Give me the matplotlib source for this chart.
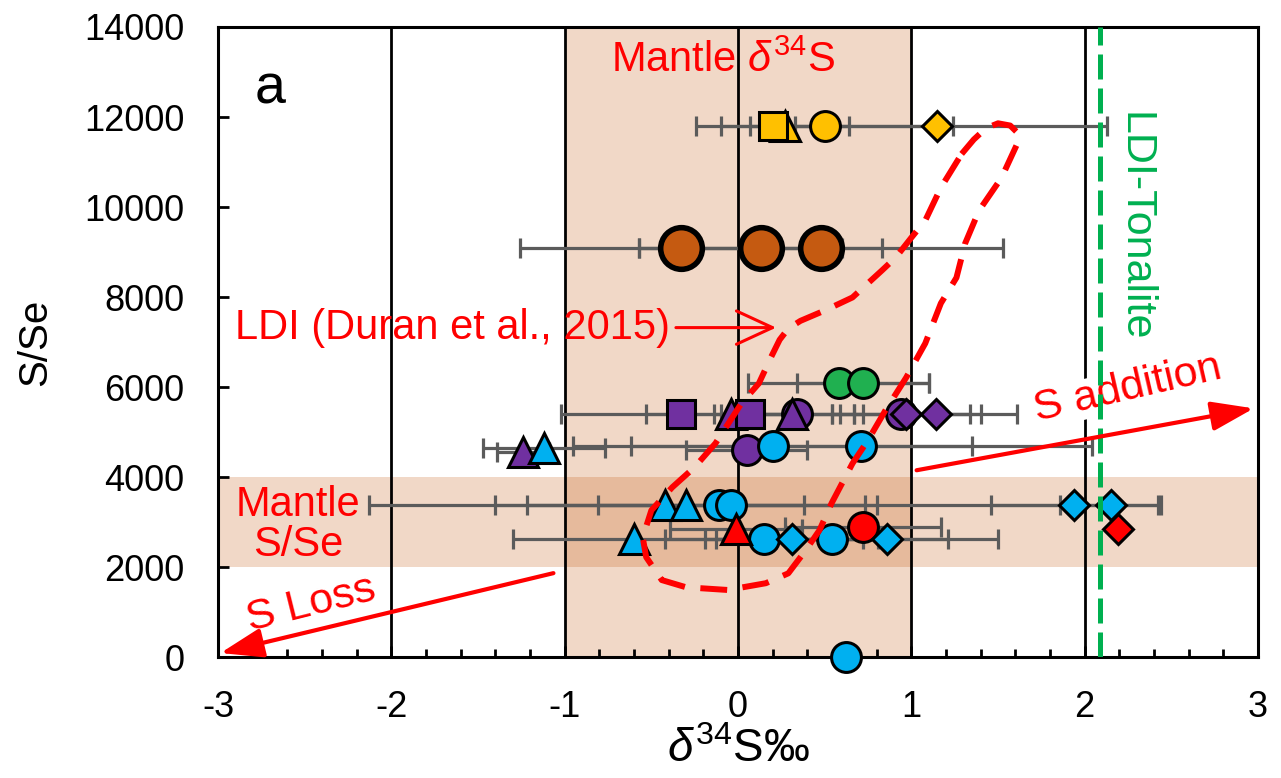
import numpy as np
import matplotlib
matplotlib.use('Agg')
import matplotlib.pyplot as plt
from matplotlib.ticker import MultipleLocator

plt.rcParams['font.family'] = ['Liberation Sans', 'DejaVu Sans']
plt.rcParams['axes.unicode_minus'] = False
plt.rcParams['mathtext.fontset'] = 'custom'
plt.rcParams['mathtext.rm'] = 'Liberation Sans'
plt.rcParams['mathtext.it'] = 'Liberation Sans:italic'

# --- data (d34S, S/Se, 1 sigma on d34S, marker) ---
yellow_x = [0.20, 0.27, 0.50, 1.15]
yellow_y = [11800, 11800, 11800, 11800]
yellow_err = [0.13, 0.37, 0.74, 0.98]
yellow_mk = ['s', '^', 'o', 'D']

brown_x = [-0.33, 0.13, 0.48]
brown_y = [9100, 9100, 9100]
brown_err = [0.93, 0.70, 1.05]
brown_mk = ['o', 'o', 'o']

green_x = [0.58, 0.72]
green_y = [6100, 6100]
green_err = [0.52, 0.38]
green_mk = ['o', 'o']

purple_x = [-0.33, -0.04, 0.07, 0.31, 0.34, 0.94, 0.97, 1.14, -1.24, 0.05]
purple_y = [5400, 5400, 5400, 5400, 5400, 5400, 5400, 5400, 4550, 4600]
purple_err = [0.69, 0.10, 0.60, 0.41, 0.25, 0.40, 0.43, 0.47, 0.15, 0.35]
purple_mk = ['s', '^', 's', '^', 'o', 'o', 'D', 'D', '^', 'o']

cyan_x = [-1.12, 0.20, 0.71,
          -0.42, -0.30, -0.11, -0.04, 1.94, 2.15,
          -0.60, 0.15, 0.31, 0.54, 0.86,
          0.62]
cyan_y = [4650, 4700, 4700,
          3380, 3380, 3380, 3380, 3380, 3380,
          2630, 2630, 2630, 2630, 2630,
          0]
cyan_err = [0.35, 1.15, 1.33,
            0.80, 1.10, 2.02, 0.77, 0.48, 0.29,
            0.70, 0.57, 0.50, 0.67, 0.64,
            0.0]
cyan_mk = ['^', 'o', 'o',
           '^', '^', 'o', 'o', 'D', 'D',
           '^', 'o', 'D', 'o', 'D',
           'o']

red_x = [-0.01, 0.72, 2.19]
red_y = [2850, 2900, 2850]
red_err = [0.38, 0.45, 0.0]
red_mk = ['^', 'o', 'D']

# LDI field outline (Duran et al., 2015)
ldi_x = [1.29, 1.36, 1.43, 1.50, 1.57, 1.62, 1.61, 1.52, 1.39, 1.31, 1.26, 1.17,
         1.08, 0.97, 0.85, 0.75, 0.66, 0.54, 0.47, 0.39, 0.29, 0.16, -0.06, -0.30,
         -0.44, -0.53, -0.55, -0.50, -0.38, -0.25, -0.13, 0.02, 0.12, 0.19, 0.24,
         0.29, 0.36, 0.50, 0.66, 0.83, 0.91, 1.00, 1.08, 1.17, 1.29]
ldi_y = [11180, 11500, 11750, 11860, 11810, 11620, 11400, 10650, 9920, 9190, 8430, 7860,
         6970, 6210, 5480, 4820, 4300, 3420, 2820, 2370, 1860, 1640, 1490, 1550,
         1710, 2220, 2660, 3260, 3770, 4220, 4750, 5640, 6080, 6660, 7050,
         7300, 7470, 7700, 7990, 8590, 8880, 9320, 9700, 10430, 11180]

mantle_d34s = (-1, 1)
mantle_sse = (2000, 4000)
tonalite_d34s = 2.09

fig = plt.figure(figsize=(12.81, 7.78), dpi=100)
ax = fig.add_axes([0.1702, 0.1555, 0.8119, 0.8098])

band = '#C55A11'
ax.axvspan(*mantle_d34s, color=band, alpha=0.23, lw=0, zorder=0)
ax.axhspan(*mantle_sse, color=band, alpha=0.23, lw=0, zorder=0)
for xv in [-2, -1, 0, 1, 2]:
    ax.axvline(xv, color='black', lw=2, zorder=1)

groups = [
    (yellow_x, yellow_y, yellow_err, yellow_mk, '#FFC000'),
    (brown_x, brown_y, brown_err, brown_mk, '#C55A11'),
    (green_x, green_y, green_err, green_mk, '#20B050'),
    (purple_x, purple_y, purple_err, purple_mk, '#7030A0'),
    (cyan_x, cyan_y, cyan_err, cyan_mk, '#00B0F0'),
    (red_x, red_y, red_err, red_mk, '#FF0000'),
]
msize = {'o': 21.5, 's': 20.5, '^': 21.5, 'D': 15.5}
mz = {'o': 4, '^': 5, 's': 6, 'D': 7}

for gx, gy, ge, gm, col in groups:
    ax.errorbar(gx, gy, xerr=ge, fmt='none', ecolor='#5B5B5B', elinewidth=2.3,
                capsize=7, capthick=2.3, zorder=3)
    big = col == '#C55A11'
    for x, y, m in zip(gx, gy, gm):
        ax.plot(x, y, marker=m, ms=30 if big else msize[m], mfc=col, mec='black',
                mew=4 if big else 2.2, ls='none', zorder=mz[m], clip_on=False)

ax.plot(ldi_x, ldi_y, color='red', lw=4.3, dashes=(4.5, 2.6), zorder=9,
        solid_joinstyle='round', dash_joinstyle='round')
ax.axvline(tonalite_d34s, color='#00B050', lw=3.6, dashes=(5, 1.8), zorder=9)

red = '#FF0000'
ax.text(-0.735, 13250, r'Mantle $\mathit{\delta}^{34}$S', color=red, fontsize=30,
        ha='left', va='center', zorder=10)
ax.text(-2.54, 2930, 'Mantle\nS/Se', color=red, fontsize=30, ha='center',
        va='center', linespacing=1.0, zorder=10)
ax.text(2.29, 9560, 'LDI-Tonalite', color='#00B050', fontsize=31, rotation=270,
        ha='center', va='center', zorder=10)
ax.text(2.25, 5950, 'S addition', color=red, fontsize=31, rotation=13,
        ha='center', va='center', zorder=8,
        bbox=dict(facecolor='white', edgecolor='none', pad=0))
ax.text(-2.46, 1160, 'S Loss', color=red, fontsize=31, rotation=14,
        ha='center', va='center', zorder=10)
ax.annotate('LDI (Duran et al., 2015)', xy=(0.22, 7320), xytext=(-2.9, 7320),
            color=red, fontsize=30, ha='left', va='center', zorder=10,
            arrowprops=dict(arrowstyle='->,head_length=1.3,head_width=0.6',
                            color=red, lw=2.2, mutation_scale=20, shrinkA=2, shrinkB=0))
ax.annotate('', xy=(2.975, 5525), xytext=(1.03, 4150), zorder=10,
            arrowprops=dict(arrowstyle='-|>,head_length=1.3,head_width=0.45',
                            color=red, lw=3, mutation_scale=20, shrinkA=0, shrinkB=0))
ax.annotate('', xy=(-2.986, 89), xytext=(-1.065, 1864), zorder=10,
            arrowprops=dict(arrowstyle='-|>,head_length=1.3,head_width=0.45',
                            color=red, lw=3, mutation_scale=20, shrinkA=0, shrinkB=0))
ax.text(0.05, 0.9, 'a', transform=ax.transAxes, fontsize=40, ha='center', va='center')

ax.set_xlim(-3, 3)
ax.set_ylim(0, 14000)
ax.xaxis.set_major_locator(MultipleLocator(1))
ax.xaxis.set_minor_locator(MultipleLocator(0.2))
ax.yaxis.set_major_locator(MultipleLocator(2000))
ax.tick_params(which='major', direction='in', length=8, width=2, labelsize=26)
ax.tick_params(which='minor', direction='in', length=6, width=2)
ax.tick_params(axis='x', which='major', pad=24)
ax.tick_params(axis='y', pad=24)
for s in ax.spines.values():
    s.set_linewidth(2.2)

ax.set_xlabel(r'$\mathit{\delta}^{34}$S‰', fontsize=33, labelpad=2)
ax.set_ylabel('S/Se', fontsize=29, labelpad=22)

fig.savefig('out.png', dpi=100)
